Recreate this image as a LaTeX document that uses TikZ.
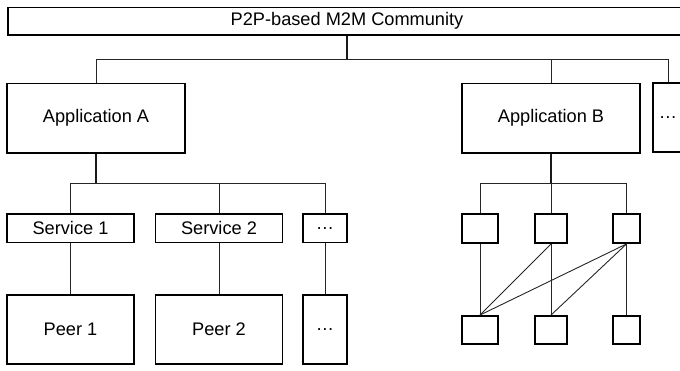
\documentclass[tikz,border=0pt]{standalone}
\usepackage{fontspec}
\setmainfont{Liberation Sans}
\begin{document}
\begin{tikzpicture}[x=1pt,y=-1pt,
  box/.style={draw=black,line width=1.9pt,inner sep=0pt,font=\fontsize{18.2}{20}\selectfont},
  wire/.style={draw=black!85,line width=0.9pt},
  trunk/.style={draw=black!90,line width=1.5pt}]
\useasboundingbox (0,0) rectangle (680,370);
\clip (0,0) rectangle (680,370);
% nodes
\node[box,minimum width=678pt,minimum height=27.5pt] (top) at (347,21.25) {P2P-based M2M Community};
\node[box,minimum width=178pt,minimum height=69.5pt] (appA) at (96,118.25) {Application A};
\node[box,minimum width=178pt,minimum height=69.5pt] (appB) at (551,118.25) {Application B};
\node[box,minimum width=30pt,minimum height=69.5pt] (appD) at (668,117.5) {…};
\node[box,minimum width=127pt,minimum height=28.5pt] (s1) at (70.5,228.25) {Service 1};
\node[box,minimum width=127pt,minimum height=28.5pt] (s2) at (219,228.25) {Service 2};
\node[box,minimum width=44pt,minimum height=28.5pt] (sd) at (325,228.25) {…};
\node[box,minimum width=127pt,minimum height=69pt] (p1) at (70.5,329.5) {Peer 1};
\node[box,minimum width=127pt,minimum height=69pt] (p2) at (219,329.5) {Peer 2};
\node[box,minimum width=44pt,minimum height=69pt] (pd) at (325,329.5) {…};
\node[box,minimum width=36pt,minimum height=29pt] (b1) at (480,228.5) {};
\node[box,minimum width=32pt,minimum height=29pt] (b2) at (551,228.5) {};
\node[box,minimum width=27pt,minimum height=29pt] (b3) at (626.5,228.5) {};
\node[box,minimum width=36pt,minimum height=28pt] (c1) at (480,330) {};
\node[box,minimum width=32pt,minimum height=28pt] (c2) at (551,330) {};
\node[box,minimum width=27pt,minimum height=28pt] (c3) at (626.5,330) {};
% junctions
\coordinate (j0) at (347,59.5);
\coordinate (jA) at (96,183.5);
\coordinate (jB) at (551,183.5);
% connectors
\draw[trunk] (top.south) -- (j0);
\draw[wire] (appA.north) |- (j0) -| (appD.north);
\draw[wire] (appB.north) -- (appB.north |- j0);
\draw[trunk] (appA.south) -- (jA);
\draw[wire] (s1.north) |- (jA) -| (sd.north);
\draw[wire] (s2.north) -- (s2.north |- jA);
\draw[wire] (s1.south) -- (p1.north);
\draw[wire] (s2.south) -- (p2.north);
\draw[wire] (sd.south) -- (pd.north);
\draw[trunk] (appB.south) -- (jB);
\draw[wire] (b1.north) |- (jB) -| (b3.north);
\draw[wire] (b2.north) -- (jB);
\draw[wire] (b1.south) -- (c1.north);
\draw[wire] (b2.south) -- (c2.north);
\draw[wire] (b3.south) -- (c3.north);
\draw[wire] (c1.north) -- (b2.south);
\draw[wire] (c1.north) -- (b3.south);
\draw[wire] (c2.north) -- (b3.south);
\end{tikzpicture}
\end{document}
